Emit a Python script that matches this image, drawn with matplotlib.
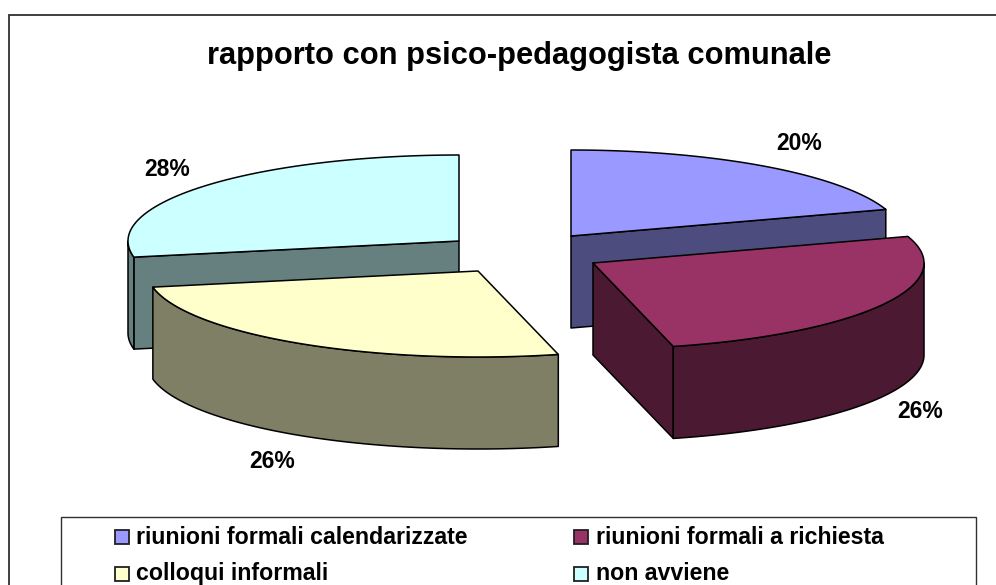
import numpy as np
import matplotlib
matplotlib.use("Agg")
import matplotlib.pyplot as plt
from matplotlib.patches import Polygon, Rectangle

# ---- data
title = "rapporto con psico-pedagogista comunale"
categories = ["riunioni formali calendarizzate", "riunioni formali a richiesta",
              "colloqui informali", "non avviene"]
values = [20.0, 26.1, 25.9, 28.0]
top_colors = ["#9999FF", "#993366", "#FFFFCC", "#CCFFFF"]
side_colors = ["#4C4C7F", "#4C1933", "#7F7F66", "#667F7F"]

# ---- layout in reference pixels
W, H = 996, 585
RX, RY, DEPTH = 331, 86, 92
apexes = [(571, 236), (593, 263), (478, 271), (459, 241)]
label_pos = [(799, 143), (920, 412), (272, 461), (167, 169)]
draw_order = [3, 0, 2, 1]

plt.rcParams["font.family"] = ["Liberation Sans", "DejaVu Sans"]
fig = plt.figure(figsize=(W / 100, H / 100), dpi=100)
ax = fig.add_axes([0, 0, 1, 1])
ax.set_xlim(0, W)
ax.set_ylim(H, 0)
ax.axis("off")
LW = 1.1

ax.add_patch(Rectangle((9, 15), 1020, 600, fc="white", ec="#303030", lw=1.3, zorder=0))


def rim(cx, cy, t):
    r = np.radians(t)
    return cx + RX * np.sin(r), cy - RY * np.cos(r)


def poly(pts, fc, z):
    ax.add_patch(Polygon(pts, closed=True, fc=fc, ec="black", lw=LW, joinstyle="round", zorder=z))


angles = np.concatenate([[0], np.cumsum(values) / np.sum(values) * 360])
for rank, i in enumerate(draw_order):
    z = 2 + rank
    start, end = angles[i], angles[i + 1]
    cx, cy = apexes[i]
    side, top = side_colors[i], top_colors[i]
    # straight cut faces that look towards the viewer
    for edge, visible in ((start, 180 < start < 360), (end, 0 < end < 180)):
        if visible:
            x, y = rim(cx, cy, edge)
            poly([(cx, cy), (x, y), (x, y + DEPTH), (cx, cy + DEPTH)], side, z)
    # curved outer wall
    a, b = max(start, 90), min(end, 270)
    if a < b:
        ts = np.linspace(a, b, 120)
        xs, ys = rim(cx, cy, ts)
        pts = list(zip(xs, ys)) + list(zip(xs[::-1], ys[::-1] + DEPTH))
        poly(pts, side, z)
    # top surface
    ts = np.linspace(start, end, 200)
    xs, ys = rim(cx, cy, ts)
    poly([(cx, cy)] + list(zip(xs, ys)), top, z)
    lx, ly = label_pos[i]
    ax.text(lx, ly, f"{round(values[i])}%", fontsize=16.5, fontweight="bold",
            ha="center", va="center", zorder=10)

ax.text(519, 56, title, fontsize=22.2, fontweight="bold", ha="center", va="center", zorder=10)

# legend
ax.add_patch(Rectangle((61, 517), 915, 100, fc="white", ec="#303030", lw=1.0, zorder=1))
legend_xy = [(115, 537), (574, 537), (115, 573.5), (574, 573.5)]
for (x, y), c, name in zip(legend_xy, top_colors, categories):
    ax.add_patch(Rectangle((x, y - 7), 14, 14, fc=c, ec="#202020", lw=1.3, zorder=3))
    ax.text(x + 21.5, y, name, fontsize=16.7, fontweight="bold", ha="left", va="center", zorder=3)

fig.savefig("out.png", dpi=100)
